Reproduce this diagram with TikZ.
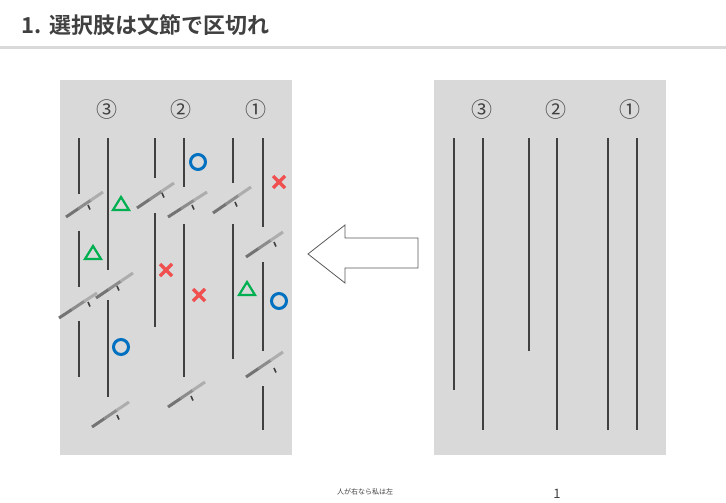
\documentclass[tikz,border=0pt]{standalone}
\usetikzlibrary{calc}
\usepackage{fontspec}
\newfontfamily\cjk{Noto Sans CJK JP}
\newfontfamily\cjkb{Noto Sans CJK JP Bold}
\definecolor{panel}{HTML}{D9D9D9}
\definecolor{dk}{HTML}{404040}
\definecolor{cblue}{HTML}{0070C0}
\definecolor{cgreen}{HTML}{00B050}
\definecolor{cred}{HTML}{F05050}
\begin{document}
\begin{tikzpicture}[x=1pt,y=-1pt,
  vl/.style={dk,line width=2.2pt},
  tk/.style={dk,line width=1.6pt},
  num/.style={font=\cjk\fontsize{21}{21}\selectfont,text=dk},
  circ/.style={cblue,line width=3pt},
  tri/.style={cgreen,line width=2.2pt,line join=miter},
  crs/.style={cred,line width=3.4pt}]
\useasboundingbox (0,0) rectangle (726,503);
\fill[white] (0,0) rectangle (726,503);
\node[anchor=west,font=\cjkb\fontsize{22}{22}\selectfont,text=dk,inner sep=0pt] (title) at (21,25) {1.\hspace{8pt}選択肢は文節で区切れ};
\fill[panel] (0,46) rectangle (726,49);
\fill[panel] (60,80) rectangle (292,455);
\fill[panel] (434,80) rectangle (666,455);
% numbers
\foreach \x/\n [count=\i] in {107/③,181/②,256/①,482/③,556/②,630/①}
  \node[num] (n\i) at (\x,110) {\n};
% left lines
\foreach \x/\a/\b in {79/138/194,79/231/287,79/321/377,108/138/270,108/300/397,
  155/138/178,155/213/327,184/138/187,184/224/377,233/138/183,233/224/359,
  263/138/227,263/262/351,263/386/430}
  \draw[vl] (\x,\a) -- (\x,\b);
% right lines
\foreach \x/\b in {454/390,483/430,529/351,557/430,608/430,637/430}
  \draw[vl] (\x,138) -- (\x,\b);
% cuts
\foreach \ax/\ay/\bx/\by/\tx/\ty in {66/217/103/192/88/205, 137/208/174/183/162/193,
  168/217/207/192/192/205, 213/213/251/187/235/202, 246/257/283/232/274/242,
  96/298/133/273/117/286, 59/318/97/293/88/302, 246/377/283/352/274/368,
  168/407/205/382/191/396, 92/427/129/402/117/415}{
  \draw[line width=3pt,black!55] (\ax,\ay) -- ($(\ax,\ay)!0.35!(\bx,\by)$);
  \draw[line width=3pt,black!45] ($(\ax,\ay)!0.33!(\bx,\by)$) -- ($(\ax,\ay)!0.68!(\bx,\by)$);
  \draw[line width=3pt,black!32] ($(\ax,\ay)!0.66!(\bx,\by)$) -- (\bx,\by);
  \draw[tk] (\tx,\ty) -- ++(2,4.5);
}
% circles
\foreach \x/\y in {198/162,121/347,279/301}
  \draw[circ] (\x,\y) circle (7.5);
% triangles
\foreach \x/\y in {121/204,93/253,247/289}
  \draw[tri] (\x,\y-7) -- (\x+8,\y+6) -- (\x-8,\y+6) -- cycle;
% crosses
\foreach \x/\y in {279/182,166/270,199/295}{
  \draw[crs] (\x-6,\y-6) -- (\x+6,\y+6);
  \draw[crs] (\x-6,\y+6) -- (\x+6,\y-6);
}
% arrow
\draw[gray!70!black,fill=white,line width=0.8pt] (418,238) -- (345,238) -- (345,225) -- (308,254) -- (345,283) -- (345,268) -- (418,268) -- cycle;
\node[font=\cjk\fontsize{7}{7}\selectfont,text=dk] (foot) at (365,492) {人が右なら私は左};
\node[font=\cjk\fontsize{13}{13}\selectfont,text=dk] (pg) at (557,494) {1};
\end{tikzpicture}
\end{document}
